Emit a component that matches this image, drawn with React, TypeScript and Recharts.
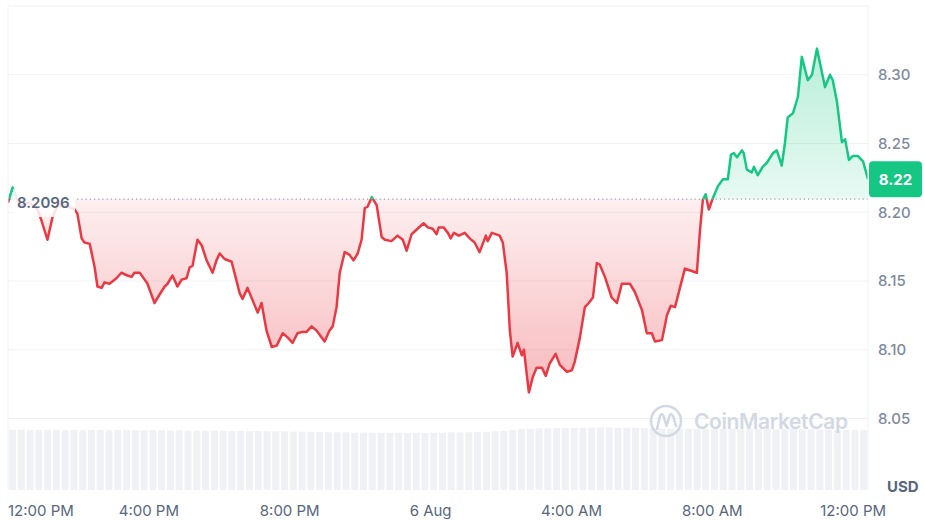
import {
  Area,
  Bar,
  BarChart,
  CartesianGrid,
  ComposedChart,
  ReferenceLine,
  XAxis,
  YAxis
} from "recharts";

// hours since 12:00 PM (5 Aug)
const hours = [
  0, 0.13, 0.33, 0.61, 0.84, 0.95, 1.12, 1.26, 1.41, 1.63,
  1.89, 1.97, 2.09, 2.17, 2.32, 2.46, 2.54, 2.66, 2.74, 2.88,
  3.08, 3.22, 3.39, 3.51, 3.59, 3.74, 3.88, 3.96, 4.16, 4.3,
  4.45, 4.53, 4.67, 4.81, 4.93, 5.07, 5.16, 5.24, 5.38, 5.5,
  5.64, 5.81, 5.92, 6.01, 6.15, 6.35, 6.58, 6.66, 6.8, 7.09,
  7.2, 7.34, 7.49, 7.63, 7.8, 7.94, 8.08, 8.22, 8.36, 8.48,
  8.62, 8.76, 8.99, 9.13, 9.22, 9.33, 9.42, 9.56, 9.7, 9.81,
  9.93, 10.04, 10.13, 10.21, 10.33, 10.47, 10.61, 10.7, 10.89, 11.06,
  11.21, 11.32, 11.46, 11.63, 11.8, 11.92, 12.06, 12.17, 12.23, 12.37,
  12.49, 12.57, 12.66, 12.8, 12.97, 13.11, 13.25, 13.39, 13.57, 13.62,
  13.74, 13.96, 14.05, 14.16, 14.25, 14.33, 14.47, 14.59, 14.65, 14.79,
  14.9, 15.01, 15.16, 15.27, 15.38, 15.55, 15.67, 15.87, 16.01, 16.09,
  16.24, 16.38, 16.49, 16.61, 16.72, 16.8, 16.95, 17.14, 17.29, 17.43,
  17.66, 17.8, 18.0, 18.14, 18.28, 18.37, 18.57, 18.71, 18.82, 18.94,
  19.08, 19.22, 19.33, 19.56, 19.65, 19.73, 19.81, 19.9, 20.01, 20.16,
  20.3, 20.44, 20.53, 20.61, 20.7, 20.84, 20.89, 20.98, 21.12, 21.18,
  21.29, 21.43, 21.55, 21.72, 21.83, 21.97, 22.06, 22.14, 22.29, 22.43,
  22.54, 22.71, 22.83, 22.97, 23.11, 23.2, 23.34, 23.42, 23.54, 23.68,
  23.77, 23.88, 23.99, 24.13, 24.28, 24.42
];

const prices = [
  8.207, 8.218, 8.205, 8.207, 8.202, 8.194, 8.18, 8.196, 8.205, 8.205,
  8.202, 8.199, 8.181, 8.178, 8.177, 8.16, 8.146, 8.145, 8.149, 8.148,
  8.152, 8.156, 8.154, 8.153, 8.156, 8.156, 8.151, 8.148, 8.134, 8.14,
  8.146, 8.148, 8.154, 8.146, 8.151, 8.152, 8.16, 8.161, 8.18, 8.176,
  8.165, 8.156, 8.165, 8.17, 8.166, 8.164, 8.141, 8.137, 8.145, 8.127,
  8.134, 8.114, 8.102, 8.103, 8.112, 8.109, 8.105, 8.112, 8.113, 8.113,
  8.117, 8.114, 8.106, 8.114, 8.117, 8.131, 8.156, 8.171, 8.169, 8.165,
  8.17, 8.18, 8.203, 8.204, 8.211, 8.205, 8.182, 8.18, 8.179, 8.183,
  8.18, 8.172, 8.184, 8.188, 8.192, 8.189, 8.188, 8.184, 8.189, 8.189,
  8.185, 8.181, 8.185, 8.183, 8.185, 8.181, 8.178, 8.171, 8.183, 8.179,
  8.185, 8.183, 8.178, 8.156, 8.114, 8.095, 8.105, 8.096, 8.1, 8.069,
  8.08, 8.087, 8.087, 8.081, 8.09, 8.097, 8.089, 8.084, 8.085, 8.091,
  8.109, 8.131, 8.134, 8.138, 8.163, 8.162, 8.153, 8.138, 8.134, 8.148,
  8.148, 8.142, 8.129, 8.112, 8.112, 8.106, 8.107, 8.125, 8.132, 8.131,
  8.145, 8.159, 8.158, 8.156, 8.187, 8.209, 8.213, 8.202, 8.21, 8.219,
  8.224, 8.224, 8.242, 8.243, 8.24, 8.245, 8.243, 8.231, 8.229, 8.233,
  8.227, 8.233, 8.236, 8.243, 8.245, 8.234, 8.25, 8.269, 8.272, 8.284,
  8.313, 8.296, 8.3, 8.319, 8.302, 8.291, 8.3, 8.296, 8.28, 8.251,
  8.253, 8.238, 8.241, 8.241, 8.237, 8.224
];

// 15-minute volume bars (millions)
const volumes = [
  3.0, 3.01, 2.99, 3.0, 3.0, 3.01, 2.99, 3.0, 2.98, 3.0,
  3.0, 2.99, 3.0, 2.99, 2.98, 2.98, 2.99, 2.98, 2.97, 2.98,
  2.97, 2.97, 2.96, 2.97, 2.96, 2.95, 2.95, 2.94, 2.95, 2.94,
  2.93, 2.93, 2.92, 2.92, 2.91, 2.9, 2.89, 2.88, 2.88, 2.87,
  2.87, 2.86, 2.86, 2.85, 2.86, 2.85, 2.86, 2.85, 2.86, 2.87,
  2.88, 2.88, 2.89, 2.9, 2.91, 2.93, 2.96, 3.0, 3.04, 3.07,
  3.08, 3.09, 3.1, 3.1, 3.11, 3.12, 3.12, 3.13, 3.13, 3.12,
  3.12, 3.11, 3.1, 3.08, 3.07, 3.06, 3.05, 3.05, 3.05, 3.04,
  3.04, 3.05, 3.05, 3.04, 3.05, 3.05, 3.05, 3.04, 3.04, 3.05,
  3.04, 3.03, 3.02, 3.02, 3.01, 3.01, 3.0, 3.0
];

const xTicks = [0, 4, 8, 12, 16, 20, 24];
const xTickLabels = ["12:00 PM", "4:00 PM", "8:00 PM", "6 Aug", "4:00 AM", "8:00 AM", "12:00 PM"];
const yTicks = [8.05, 8.1, 8.15, 8.2, 8.25, 8.3];
const openPrice = 8.2096;

const W = 925;
const H = 520;
const GREEN = "#16c784";
const RED = "#ea3943";
const GRID = "#eff2f5";
const MUTED = "#808a9d";
const DARK = "#58667e";

const rows = prices.map((price, i) => ({ t: hours[i], price }));
const volumeRows = volumes.map((v, i) => ({ slot: i, v }));
const lastPrice = prices[prices.length - 1];
const maxP = Math.max(...prices);
const minP = Math.min(...prices);
const split = (maxP - openPrice) / (maxP - minP);

function TimeTick(props: any) {
  const { x, y, payload, index } = props;
  const i = xTicks.indexOf(payload.value);
  return (
    <text
      x={x}
      y={y + 26}
      textAnchor={index === 0 ? "start" : "middle"}
      fill={DARK}
      fontSize={15}
      fontFamily="Inter"
    >
      {xTickLabels[i]}
    </text>
  );
}

function OpenLabel(props: any) {
  const { viewBox } = props;
  const cy = viewBox.y;
  return (
    <g>
      <rect x={viewBox.x + 5} y={cy - 10} width={62} height={28} fill="#fff" fillOpacity={0.85} />
      <text x={viewBox.x + 9} y={cy + 9} fill={DARK} fontSize={15} fontWeight={600} fontFamily="Inter">
        {openPrice.toString()}
      </text>
    </g>
  );
}

function LastLabel(props: any) {
  const { viewBox } = props;
  const x = viewBox.x + viewBox.width + 1;
  const cy = viewBox.y;
  return (
    <g>
      <rect x={x} y={cy - 18} width={53} height={36} rx={4} fill={GREEN} />
      <text
        x={x + 26.5}
        y={cy + 5.5}
        textAnchor="middle"
        fill="#fff"
        fontSize={15}
        fontWeight={700}
        fontFamily="Inter"
      >
        {lastPrice.toFixed(2)}
      </text>
    </g>
  );
}

export default function App() {
  return (
    <div style={{ position: "absolute", left: 0, top: 0, width: W, height: H, background: "#fff", fontFamily: "Inter" }}>
      <div style={{ position: "absolute", left: 0, top: 0 }}>
        <BarChart
          width={W}
          height={H}
          data={volumeRows}
          margin={{ top: 6, right: 57, bottom: 30, left: 8 }}
          barCategoryGap={1}
        >
          <XAxis dataKey="slot" hide />
          <YAxis hide domain={[0, 24.2]} />
          <Bar dataKey="v" fill="#f0f1f4" isAnimationActive={false} />
        </BarChart>
      </div>

      <div style={{ position: "absolute", left: 0, top: 0 }}>
        <ComposedChart width={W} height={H} data={rows} margin={{ top: 6, right: 0, bottom: 0, left: 8 }}>
          <defs>
            <linearGradient id="priceStroke" x1="0" y1="0" x2="0" y2="1">
              <stop offset={split} stopColor={GREEN} />
              <stop offset={split} stopColor={RED} />
            </linearGradient>
            <linearGradient id="priceFill" x1="0" y1="0" x2="0" y2="1">
              <stop offset={0} stopColor={GREEN} stopOpacity={0.3} />
              <stop offset={split} stopColor={GREEN} stopOpacity={0.1} />
              <stop offset={split} stopColor={RED} stopOpacity={0.08} />
              <stop offset={1} stopColor={RED} stopOpacity={0.35} />
            </linearGradient>
          </defs>
          <CartesianGrid stroke={GRID} vertical={false} horizontalValues={yTicks} />
          <ReferenceLine y={8.35} stroke={GRID} />
          <ReferenceLine x={0} stroke={GRID} />
          <XAxis
            dataKey="t"
            type="number"
            domain={[0, 24.42]}
            ticks={xTicks}
            tick={<TimeTick />}
            axisLine={false}
            tickLine={false}
            tickSize={0}
            tickMargin={0}
            height={30}
            interval={0}
            allowDataOverflow
          />
          <YAxis
            orientation="right"
            domain={[7.998, 8.35]}
            ticks={yTicks}
            tickFormatter={(v: number) => v.toFixed(2)}
            tick={{ fill: MUTED, fontSize: 15, fontWeight: 500, fontFamily: "Inter" }}
            axisLine={{ stroke: GRID }}
            tickLine={false}
            tickSize={0}
            tickMargin={10}
            width={57}
            allowDataOverflow
          />
          <Area
            type="linear"
            dataKey="price"
            baseValue={openPrice}
            stroke="url(#priceStroke)"
            strokeWidth={2.5}
            strokeLinejoin="round"
            fill="url(#priceFill)"
            fillOpacity={1}
            dot={false}
            activeDot={false}
            isAnimationActive={false}
          />
          <ReferenceLine
            y={openPrice}
            stroke="#97a1b3"
            strokeDasharray="1.2 3"
            strokeWidth={1.2}
            label={<OpenLabel />}
          />
          <ReferenceLine y={lastPrice} stroke="none" label={<LastLabel />} />
        </ComposedChart>
      </div>

      <svg width={W} height={H} style={{ position: "absolute", left: 0, top: 0, pointerEvents: "none" }}>
        <g stroke="#d3d9e4" fill="none" strokeWidth={2.6} strokeLinecap="round" strokeLinejoin="round">
          <circle cx={666} cy={421} r={15} />
          <path d="M657 429 L660 416 Q661.5 412 663.5 416 L666.5 426 L669.5 416 Q671 412 673 416 L676 426" />
        </g>
        <text x={694} y={429} fill="#d3d9e4" fontSize={21} fontWeight={600} fontFamily="Inter" textLength={154}>
          CoinMarketCap
        </text>
        <text x={887} y={492} fill={DARK} fontSize={15} fontWeight={700} fontFamily="Inter">
          USD
        </text>
      </svg>
    </div>
  );
}
